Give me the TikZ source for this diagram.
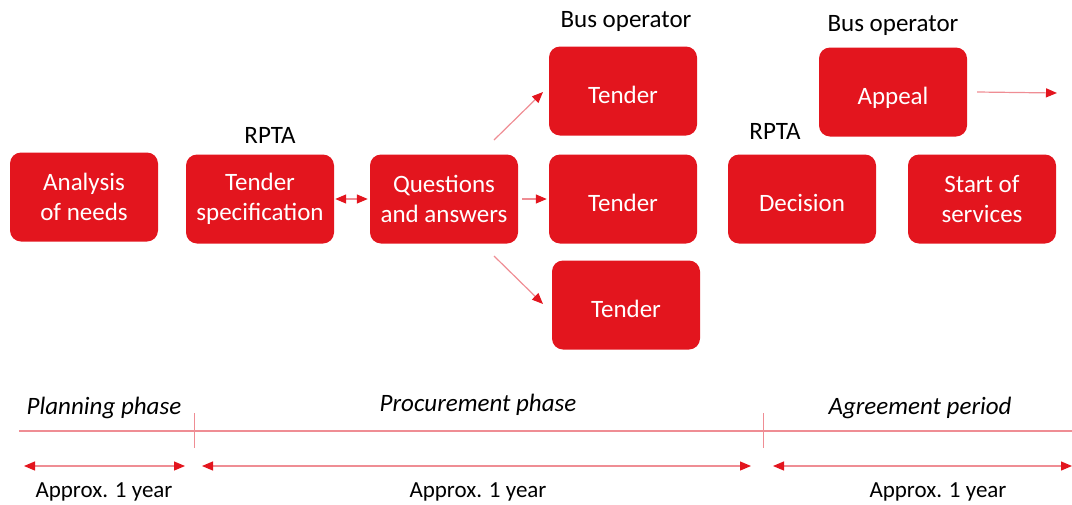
\documentclass[tikz,border=0pt]{standalone}
\usepackage{fontspec}
\setmainfont{Carlito}
\usetikzlibrary{arrows.meta}
\definecolor{boxred}{HTML}{E3151E}
\definecolor{linered}{HTML}{EF8D94}
\begin{document}
\begin{tikzpicture}[
            x=1pt, y=-1pt,
            stage/.style={fill=boxred, rounded corners=11pt, minimum width=148pt, minimum height=89pt,
                text=white, align=center, font=\fontsize{25}{30}\selectfont},
            oneline/.style={text height=26pt, text depth=2pt},
            who/.style={font=\fontsize{25}{30}\selectfont},
            phase/.style={font=\itshape\fontsize{25}{30}\selectfont},
            span/.style={font=\fontsize{23}{28}\selectfont},
            flow/.style={draw=linered, line width=1.2pt, -{Triangle[length=11pt,width=9pt,color=boxred]}},
            both/.style={draw=linered, line width=1.2pt, {Triangle[length=11pt,width=9pt,color=boxred]}-{Triangle[length=11pt,width=9pt,color=boxred]}},
        ]
            \useasboundingbox (0,0) rectangle (1072,504);
            % boxes
            \node [stage] (needs) at (84,197) {Analysis\\of needs};
            \node [stage] (spec) at (260,199) {Tender\\specification};
            \node [stage] (qa) at (444,199) {Questions\\and answers};
            \node [stage, oneline] (tendA) at (623,91) {Tender};
            \node [stage, oneline] (tendB) at (623,199) {Tender};
            \node [stage, oneline] (tendC) at (626,305) {Tender};
            \node [stage, oneline] (decision) at (802,199) {Decision};
            \node [stage] (start) at (982,199) {Start of\\services};
            \node [stage, oneline] (appeal) at (893,92) {Appeal};
            % who does it
            \node [who] (rptaA) at (270,135) {RPTA};
            \node [who] (busA) at (626,21) {Bus operator};
            \node [who] (rptaB) at (775,131) {RPTA};
            \node [who] (busB) at (893,25) {Bus operator};
            % arrows
            \coordinate (qaUp) at (494,140);
            \coordinate (qaDown) at (494,256);
            \coordinate (appealEnd) at (1057,93);
            \draw [both] ([xshift=1pt]spec.east) -- ([xshift=-2pt]qa.west);
            \draw [flow] ([xshift=4pt]qa.east) -- ([xshift=-2pt]tendB.west);
            \draw [flow] (qaUp) -- (543,92);
            \draw [flow] (qaDown) -- (543,304);
            \draw [flow] ([xshift=10pt]appeal.east) -- (appealEnd);
            % timeline
            \coordinate (lineL) at (19,431);
            \coordinate (lineR) at (1072,431);
            \coordinate (tickA) at (194,413);
            \coordinate (tickB) at (763,413);
            \draw [linered, line width=1.2pt] (lineL) -- (lineR);
            \draw [linered, line width=1pt] (tickA) -- ++(0,35);
            \draw [linered, line width=1pt] (tickB) -- ++(0,35);
            \node [phase] (plan) at (104,408) {Planning phase};
            \node [phase] (proc) at (478,405) {Procurement phase};
            \node [phase] (agree) at (920,408) {Agreement period};
            \coordinate (spanA1) at (24,466);
            \coordinate (spanA2) at (185,466);
            \coordinate (spanB1) at (202,466);
            \coordinate (spanB2) at (751,466);
            \coordinate (spanC1) at (773,466);
            \coordinate (spanC2) at (1072,466);
            \draw [both] (spanA1) -- (spanA2);
            \draw [both] (spanB1) -- (spanB2);
            \draw [both] (spanC1) -- (spanC2);
            \node [span] (yearA) at (104,492) {Approx. 1 year};
            \node [span] (yearB) at (478,492) {Approx. 1 year};
            \node [span] (yearC) at (938,492) {Approx. 1 year};
        \end{tikzpicture}
\end{document}
